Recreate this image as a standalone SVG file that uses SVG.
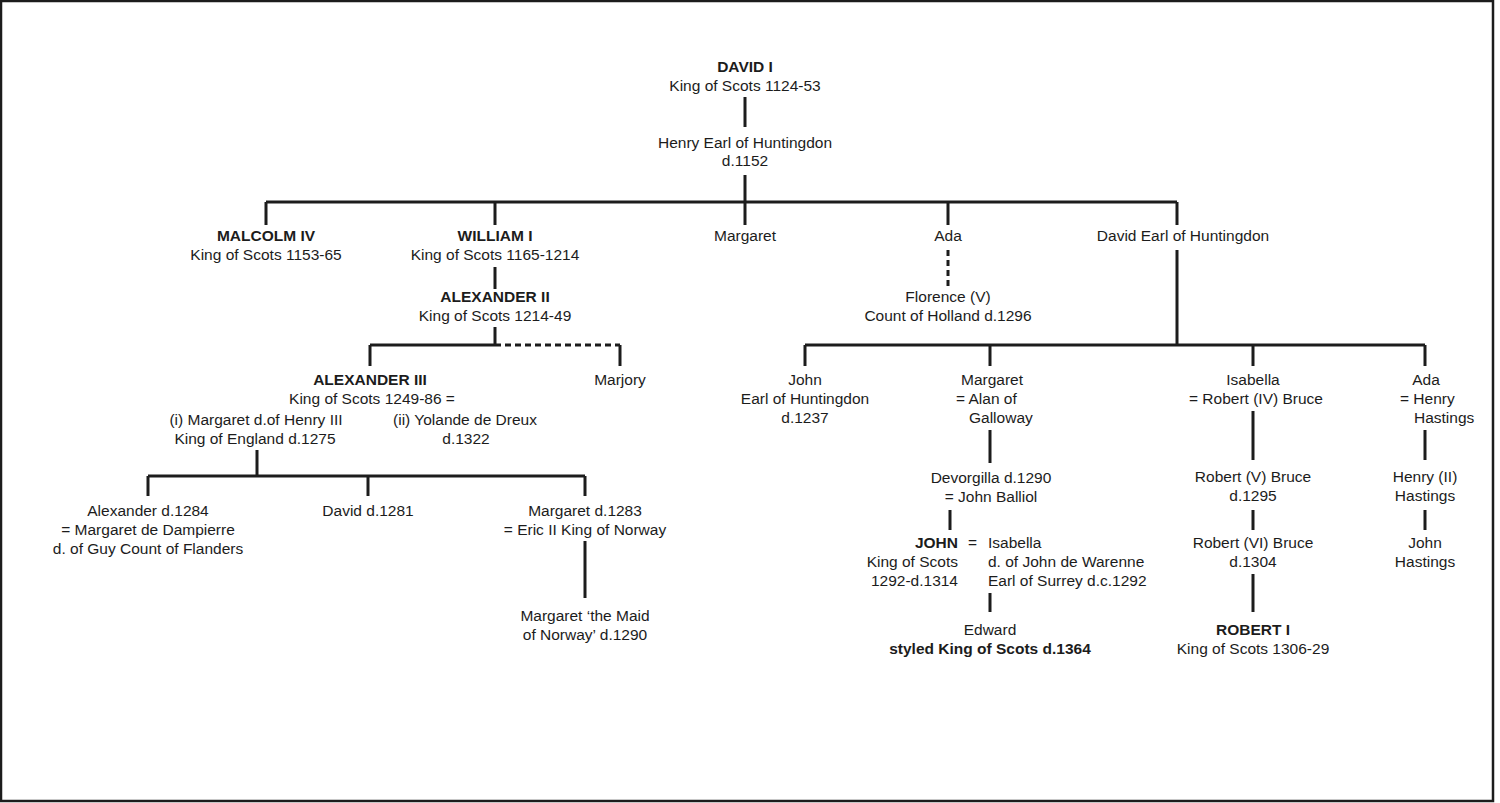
<svg xmlns="http://www.w3.org/2000/svg" width="1500" height="803" viewBox="0 0 1500 803">
<style>
text{font-family:"Liberation Sans",Arial,sans-serif;font-size:15.5px;fill:#1c1c1c}
.c{text-anchor:middle}
.r{text-anchor:end}
.b{font-weight:bold}
.ln{stroke:#1c1c1c;stroke-width:3;fill:none}
.d{stroke-dasharray:6,4}
</style>
<rect x="1" y="1" width="1492" height="800" fill="#fff" stroke="#1c1c1c" stroke-width="2.5"/>
<g id="connectors" class="ln">
<path class="ln" d="M745 97V127M745 175V202M266 202H1177M266 202V225M495 202V225M745 202V225M948 202V225M1177 202V225"/>
<path class="ln" d="M495 267V289M495 327V345M370 345H495M370 345V366M620 345V366"/>
<path class="ln d" d="M495 345H620"/>
<path class="ln d" d="M948 250V288"/>
<path class="ln" d="M1177 250V345M805 345H1425M805 345V366M990 345V366M1253 345V366M1425 345V366"/>
<path class="ln" d="M257 450V476M148 476H585M148 476V496M368 476V496M585 476V496M585 541V598"/>
<path class="ln" d="M990 430V463M950 510V530M990 593V612"/>
<path class="ln" d="M1253 411V460M1253 510V530M1253 574V612"/>
<path class="ln" d="M1425 430V460M1425 510V530"/>
</g>
<g id="david1"><text class="c b" x="745" y="72">DAVID I</text><text class="c" x="745" y="91">King of Scots 1124-53</text></g>
<g id="henry"><text class="c" x="745" y="148">Henry Earl of Huntingdon</text><text class="c" x="745" y="166">d.1152</text></g>
<g id="malcolm"><text class="c b" x="266" y="241">MALCOLM IV</text><text class="c" x="266" y="260">King of Scots 1153-65</text></g>
<g id="william"><text class="c b" x="495" y="241">WILLIAM I</text><text class="c" x="495" y="260">King of Scots 1165-1214</text></g>
<g id="margaret1"><text class="c" x="745" y="241">Margaret</text></g>
<g id="ada1"><text class="c" x="948" y="241">Ada</text></g>
<g id="davidearl"><text class="c" x="1183" y="241">David Earl of Huntingdon</text></g>
<g id="alex2"><text class="c b" x="495" y="302">ALEXANDER II</text><text class="c" x="495" y="321">King of Scots 1214-49</text></g>
<g id="florence"><text class="c" x="948" y="302">Florence (V)</text><text class="c" x="948" y="321">Count of Holland d.1296</text></g>
<g id="alex3"><text class="c b" x="370" y="385">ALEXANDER III</text><text class="c" x="372" y="404">King of Scots 1249-86 =</text></g>
<g id="wife1"><text class="c" x="256" y="425">(i) Margaret d.of Henry III</text><text class="c" x="255" y="444">King of England d.1275</text></g>
<g id="wife2"><text class="c" x="465" y="425">(ii) Yolande de Dreux</text><text class="c" x="466" y="444">d.1322</text></g>
<g id="marjory"><text class="c" x="620" y="385">Marjory</text></g>
<g id="alexd"><text class="c" x="148" y="516">Alexander d.1284</text><text class="c" x="148" y="535">= Margaret de Dampierre</text><text class="c" x="148" y="554">d. of Guy Count of Flanders</text></g>
<g id="davidd"><text class="c" x="368" y="516">David d.1281</text></g>
<g id="margaretd"><text class="c" x="585" y="516">Margaret d.1283</text><text class="c" x="585" y="535">= Eric II King of Norway</text></g>
<g id="maid"><text class="c" x="585" y="621">Margaret ‘the Maid</text><text class="c" x="585" y="640">of Norway’ d.1290</text></g>
<g id="john1"><text class="c" x="805" y="385">John</text><text class="c" x="805" y="404">Earl of Huntingdon</text><text class="c" x="805" y="423">d.1237</text></g>
<g id="margaret2"><text class="c" x="992" y="385">Margaret</text><text x="956" y="404">= Alan of</text><text x="969" y="423">Galloway</text></g>
<g id="devorgilla"><text class="c" x="991" y="483">Devorgilla d.1290</text><text class="c" x="991" y="502">= John Balliol</text></g>
<g id="johnb"><text class="r b" x="958" y="548">JOHN</text><text class="r" x="958" y="567">King of Scots</text><text class="r" x="958" y="586">1292-d.1314</text><text x="968" y="548">=</text></g>
<g id="isabella2"><text x="988" y="548">Isabella</text><text x="988" y="567">d. of John de Warenne</text><text x="988" y="586">Earl of Surrey d.c.1292</text></g>
<g id="edward"><text class="c" x="990" y="635">Edward</text><text class="c b" x="990" y="654">styled King of Scots d.1364</text></g>
<g id="isabella1"><text class="c" x="1253" y="385">Isabella</text><text class="c" x="1256" y="404">= Robert (IV) Bruce</text></g>
<g id="robert5"><text class="c" x="1253" y="482">Robert (V) Bruce</text><text class="c" x="1253" y="501">d.1295</text></g>
<g id="robert6"><text class="c" x="1253" y="548">Robert (VI) Bruce</text><text class="c" x="1253" y="567">d.1304</text></g>
<g id="robert1"><text class="c b" x="1253" y="635">ROBERT I</text><text class="c" x="1253" y="654">King of Scots 1306-29</text></g>
<g id="ada2"><text class="c" x="1426" y="385">Ada</text><text x="1400" y="404">= Henry</text><text x="1414" y="423">Hastings</text></g>
<g id="henry2"><text class="c" x="1425" y="482">Henry (II)</text><text class="c" x="1425" y="501">Hastings</text></g>
<g id="johnh"><text class="c" x="1425" y="548">John</text><text class="c" x="1425" y="567">Hastings</text></g>
</svg>
